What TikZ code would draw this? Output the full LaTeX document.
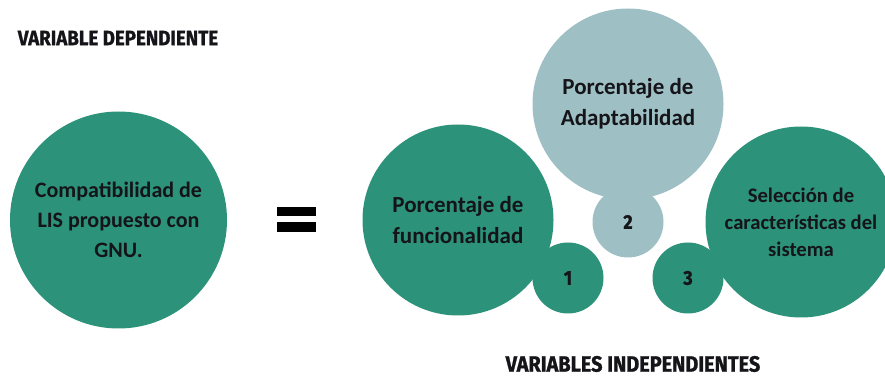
\documentclass[tikz,border=0pt]{standalone}
\usepackage{fontspec}
\setmainfont{Carlito}
\newfontfamily\headfont{Fira Sans}[FakeStretch=0.9, FakeBold=1]
\usetikzlibrary{positioning}
\definecolor{tealbub}{RGB}{44,146,122}
\definecolor{greybub}{RGB}{158,192,196}
\definecolor{inktext}{RGB}{20,20,25}

\begin{document}
\begin{tikzpicture}[x=0.75pt,y=0.75pt,yscale=-1,xscale=1,
  bubble/.style={circle, fill=tealbub, inner sep=0pt, align=center, text=inktext, font=\bfseries\fontsize{17.25}{23.25}\selectfont, minimum size=143.25pt},
  numdot/.style={circle, fill=tealbub, inner sep=0pt, minimum size=53.25pt, text=inktext, font=\headfont\bfseries\fontsize{15}{15}\selectfont},
  heading/.style={text=inktext, inner sep=0pt, font=\headfont\bfseries\fontsize{15.6}{15.6}\selectfont}]
\useasboundingbox (0,0) rectangle (885,377);
\clip (0,0) rectangle (885,377);

% Headings
\node[heading] (depHead) at (118,38) {VARIABLE DEPENDIENTE};
\node[heading, font=\headfont\bfseries\fontsize{16.6}{16.6}\selectfont] (indepHead) at (633,364) {VARIABLES INDEPENDIENTES};

% Dependent variable
\node[bubble, minimum size=162.75pt, font=\bfseries\fontsize{16.5}{22.5}\selectfont] (compat) at (118.5,220) {Compatibilidad de\\LIS propuesto con\\GNU.};

% Equals sign
\fill[black] (277,207) rectangle (316,216);
\fill[black] (277,222) rectangle (316,232);

% Independent variables
\node[bubble] (funcional) at (458,220) {Porcentaje de\\funcionalidad};
\node[bubble, fill=greybub] (adapt) at (628,104) {Porcentaje de\\Adaptabilidad};
\node[bubble, font=\bfseries\fontsize{15.5}{20.25}\selectfont] (seleccion) at (801,222) {Selección de\\características del\\sistema};

% Numbers
\node[numdot] (one) at (568,278) {1};
\node[numdot, fill=greybub] (two) at (628,222) {2};
\node[numdot] (three) at (688,278) {3};

\end{tikzpicture}
\end{document}
